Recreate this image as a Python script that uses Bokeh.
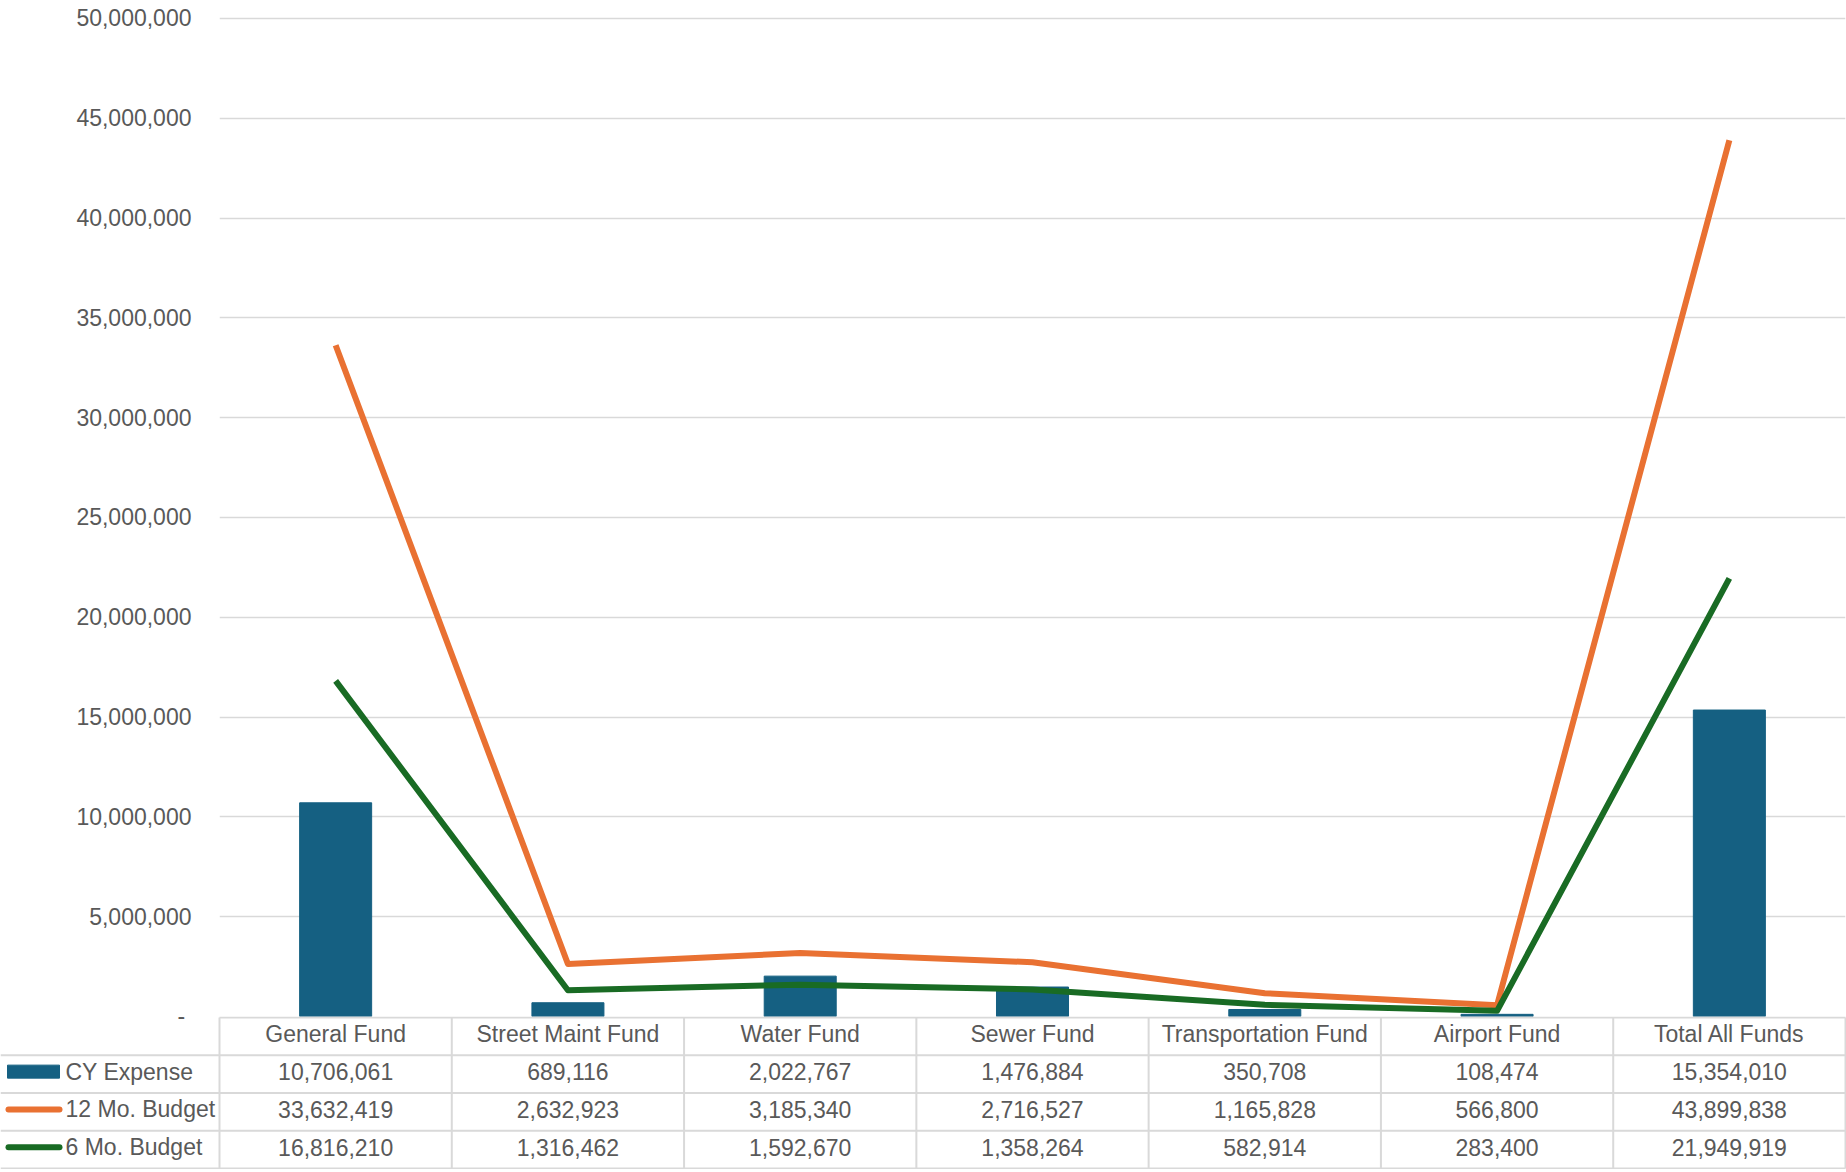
from bokeh.plotting import figure
from bokeh.models import Range1d, FactorRange, FixedTicker, NumeralTickFormatter, ColumnDataSource
from bokeh.layouts import column
from bokeh.core.properties import value
from bokeh.embed import file_html
from bokeh.resources import INLINE

# ---------------- data ----------------
categories = ["General Fund", "Street Maint Fund", "Water Fund", "Sewer Fund",
              "Transportation Fund", "Airport Fund", "Total All Funds"]
cy_expense = [10706061, 689116, 2022767, 1476884, 350708, 108474, 15354010]
budget_12 = [33632419, 2632923, 3185340, 2716527, 1165828, 566800, 43899838]
budget_6 = [16816210, 1316462, 1592670, 1358264, 582914, 283400, 21949919]
series_names = ["CY Expense", "12 Mo. Budget", "6 Mo. Budget"]
y_ticks = [0, 5000000, 10000000, 15000000, 20000000, 25000000,
           30000000, 35000000, 40000000, 45000000, 50000000]

# ---------------- style ----------------
C_BAR = "#156082"
C_ORANGE = "#E97132"
C_GREEN = "#196B24"
C_TEXT = "#595959"
C_GRID = "#D9D9D9"
FONT = "Liberation Sans"
FS = "23px"

FIG_W = 1846
LEFT = 219
RIGHT = 1
TOP = 16
PLOT_H = 1000
OVER = 12
ROW_PX = 37.75
TPAD_PX = 1.0
TEXT_LIFT_PX = 2.5

# ---------------- chart ----------------
y_end = y_ticks[-1] * 1.002
p = figure(x_range=FactorRange(*categories), y_range=Range1d(0, y_end),
           width=FIG_W, height=TOP + PLOT_H + OVER,
           output_backend="svg", toolbar_location=None, x_axis_location=None,
           min_border_left=LEFT, min_border_right=RIGHT, min_border_top=TOP,
           min_border_bottom=OVER)
p.frame_align = False
p.outline_line_color = None
p.background_fill_color = None
p.border_fill_color = None
p.xgrid.grid_line_color = None
p.ygrid.grid_line_color = C_GRID
p.ygrid.grid_line_width = 1.5

ax = p.yaxis[0]
ax.ticker = FixedTicker(ticks=y_ticks)
ax.formatter = NumeralTickFormatter(format="0,0")
ax.major_label_overrides = {0: "-\u00a0"}
ax.axis_line_color = None
ax.major_tick_line_color = None
ax.minor_tick_line_color = None
ax.major_tick_out = 0
ax.major_tick_in = 0
ax.major_label_standoff = 28
ax.major_label_text_font = FONT
ax.major_label_text_font_size = FS
ax.major_label_text_color = C_TEXT

src = ColumnDataSource(dict(cat=categories, cy=cy_expense, b12=budget_12, b6=budget_6))
p.vbar(x="cat", top="cy", width=0.31, color=C_BAR, source=src)
p.line(x="cat", y="b12", line_width=6, color=C_ORANGE, line_join="round", source=src)
p.line(x="cat", y="b6", line_width=6, color=C_GREEN, line_join="round", source=src)

# ---------------- data table ----------------
n = len(categories)
u = (FIG_W - LEFT - RIGHT) / n          # pixels per category
x0 = -LEFT / u
pad = TPAD_PX / ROW_PX
TABLE_H = int(round(4 * ROW_PX + 2 * TPAD_PX))
ppu = ROW_PX
lift = TEXT_LIFT_PX / ppu

t = figure(x_range=Range1d(x0, n + RIGHT / u), y_range=Range1d(-pad, 4 + pad),
           width=FIG_W, height=TABLE_H, output_backend="svg", toolbar_location=None,
           x_axis_location=None, y_axis_location=None,
           min_border_left=0, min_border_right=0, min_border_top=0, min_border_bottom=0,
           margin=(-OVER, 0, 0, 0))
t.frame_align = False
t.outline_line_color = None
t.background_fill_color = None
t.border_fill_color = None
t.xgrid.visible = False
t.ygrid.visible = False

# borders
hx0 = [0] + [x0] * 4
hy = [4, 3, 2, 1, 0]
t.segment(x0=hx0, y0=hy, x1=[n] * 5, y1=hy, line_color=C_GRID, line_width=2)
vx = list(range(n + 1))
t.segment(x0=vx, y0=[0] * (n + 1), x1=vx, y1=[4] * (n + 1), line_color=C_GRID, line_width=2)

# header + values
idx = [i + 0.5 for i in range(n)]
rows = [categories,
        [f"{v:,}" for v in cy_expense],
        [f"{v:,}" for v in budget_12],
        [f"{v:,}" for v in budget_6]]
tx, ty, tt = [], [], []
for r, labels in enumerate(rows):
    for i, lab in enumerate(labels):
        tx.append(idx[i]); ty.append(3.5 - r + lift); tt.append(lab)
t.text(x=tx, y=ty, text=tt, text_align="center", text_baseline="middle",
       text_font=value(FONT), text_font_size=FS, text_color=C_TEXT)

# legend keys
def px(xpix):
    return x0 + xpix / u

t.quad(left=[px(7)], right=[px(59)], bottom=[2.5 + lift - 6.5 / ppu],
       top=[2.5 + lift + 6.5 / ppu], color=C_BAR)
t.segment(x0=[px(8)], y0=[1.5 + lift], x1=[px(59)], y1=[1.5 + lift], line_color=C_ORANGE,
          line_width=6, line_cap="round")
t.segment(x0=[px(8)], y0=[0.5 + lift], x1=[px(59)], y1=[0.5 + lift], line_color=C_GREEN,
          line_width=6, line_cap="round")
t.text(x=[px(65)] * 3, y=[2.5 + lift, 1.5 + lift, 0.5 + lift], text=series_names,
       text_align="left", text_baseline="middle", text_font=value(FONT),
       text_font_size=FS, text_color=C_TEXT)

layout = column(p, t, spacing=0)
open("out.html", "w").write(file_html(layout, INLINE))
